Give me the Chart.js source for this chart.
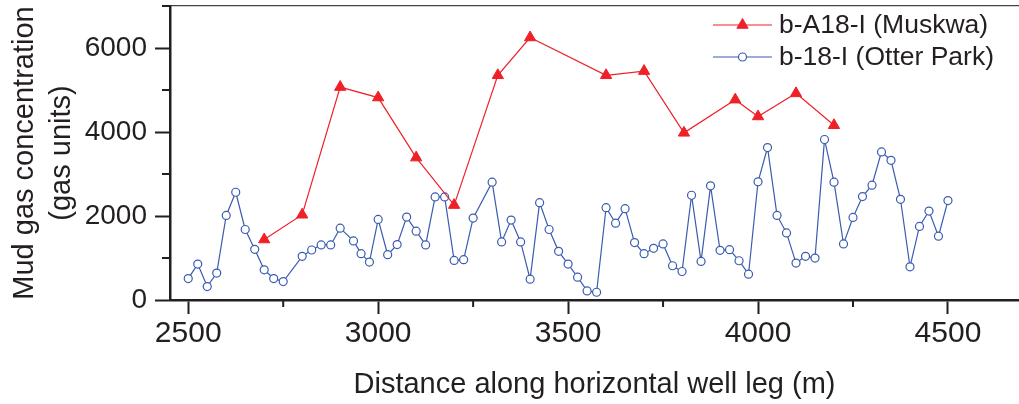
<!DOCTYPE html>
<html><head><meta charset="utf-8">
<script src="https://cdn.jsdelivr.net/npm/chart.js@4/dist/chart.umd.min.js"></script>
<style>html,body{margin:0;padding:0;background:#fff;}#wrap{width:1019px;height:404px;}</style>
</head><body><div id="wrap"><canvas id="c" width="1019" height="404"></canvas></div>
<script>
// ---- data ----
const muskwaLabel = 'b-A18-I (Muskwa)';
const muskwaX = [2700,2800,2900,3000,3100,3200,3315,3400,3600,3700,3805,3940,4000,4100,4200];
const muskwaY = [1440,2030,5070,4820,3390,2260,5350,6250,5350,5450,3980,4770,4370,4920,4160];

const otterLabel = 'b-18-I (Otter Park)';
const otterX = [2500,2525,2550,2575,2600,2625,2650,2675,2700,2725,2750,2800,2825,2850,2875,2900,2935,2955,2977,3000,3025,3050,3075,3100,3125,3150,3175,3200,3225,3250,3300,3325,3350,3375,3400,3425,3450,3475,3500,3525,3550,3575,3600,3625,3650,3675,3700,3725,3750,3775,3800,3825,3850,3875,3900,3925,3950,3975,4000,4025,4050,4075,4100,4125,4150,4175,4200,4225,4250,4275,4300,4325,4350,4375,4400,4425,4450,4475,4500];
const otterY = [510,856,319,640,2014,2566,1679,1207,719,511,439,1039,1191,1311,1311,1711,1407,1103,903,1918,1079,1319,1974,1638,1311,2454,2454,943,959,1950,2806,1383,1902,1383,496,2318,1679,1159,856,544,216,184,2198,1830,2174,1367,1103,1231,1335,815,679,2494,919,2718,1183,1199,935,615,2814,3630,2014,1598,879,1039,999,3822,2806,1335,1966,2462,2734,3525,3325,2398,791,1751,2118,1519,2367];

const xTicks = [2500,3000,3500,4000,4500];
const xMinorTicks = [2750,3250,3750,4250];
const yTicks = [0,2000,4000,6000];
const yMinorTicks = [1000,3000,5000,7000];
const xTitle = 'Distance along horizontal well leg (m)';
const yTitle = ['Mud gas concentration','(gas units)'];

// ---- styles ----
const FONT = "'Liberation Sans', Arial, Helvetica, sans-serif";
const INK = '#231f20';
const RED = '#ee2129';
const BLUE = '#3a5bb0';

const toPts = (xs, ys) => xs.map((x, i) => ({x, y: ys[i]}));
const noPad = s => { s.paddingTop = 0; s.paddingBottom = 0; s.paddingLeft = 0; s.paddingRight = 0; };

const minorTicksPlugin = {
  id: 'minorTicks',
  afterDraw(chart) {
    const {ctx, chartArea, scales} = chart;
    ctx.save(); ctx.strokeStyle = INK; ctx.lineWidth = 2; ctx.beginPath();
    xMinorTicks.forEach(v => { const px = scales.x.getPixelForValue(v); ctx.moveTo(px, chartArea.bottom); ctx.lineTo(px, chartArea.bottom + 7); });
    yMinorTicks.forEach(v => { const py = scales.y.getPixelForValue(v); ctx.moveTo(chartArea.left - 8, py); ctx.lineTo(chartArea.left, py); });
    ctx.stroke(); ctx.restore();
  }
};

const legendPlugin = {
  id: 'customLegend',
  afterDraw(chart) {
    const {ctx} = chart;
    const x0 = chart.width - 306, x1 = chart.width - 247, xt = chart.width - 240;
    const rows = [{ds: chart.data.datasets[0], y: 25}, {ds: chart.data.datasets[1], y: 57}];
    ctx.save();
    rows.forEach(r => {
      ctx.strokeStyle = r.ds.borderColor; ctx.lineWidth = r.ds.borderWidth;
      ctx.beginPath(); ctx.moveTo(x0, r.y); ctx.lineTo(x1, r.y); ctx.stroke();
      ctx.fillStyle = r.ds.pointBackgroundColor; ctx.strokeStyle = r.ds.pointBorderColor; ctx.lineWidth = r.ds.pointBorderWidth;
      Chart.helpers.drawPoint(ctx, {pointStyle: r.ds.pointStyle, radius: r.ds.pointRadius, rotation: 0, borderWidth: r.ds.pointBorderWidth}, (x0 + x1) / 2, r.y);
      ctx.fillStyle = INK; ctx.font = `26.5px ${FONT}`; ctx.textBaseline = 'middle'; ctx.textAlign = 'left';
      ctx.fillText(r.ds.label, xt, r.y + 1);
    });
    ctx.restore();
  }
};

new Chart(document.getElementById('c'), {
  type: 'line',
  data: {datasets: [
    {label: muskwaLabel, data: toPts(muskwaX, muskwaY), borderColor: RED, borderWidth: 1.2, backgroundColor: RED,
     pointStyle: 'triangle', pointRadius: 6.5, pointBackgroundColor: RED, pointBorderColor: RED, pointBorderWidth: 1, tension: 0, fill: false},
    {label: otterLabel, data: toPts(otterX, otterY), borderColor: BLUE, borderWidth: 1.2, backgroundColor: '#fff',
     pointStyle: 'circle', pointRadius: 4, pointBackgroundColor: '#fff', pointBorderColor: BLUE, pointBorderWidth: 1.2, tension: 0, fill: false}
  ]},
  options: {
    responsive: false, animation: false, devicePixelRatio: 1,
    layout: {padding: 0, autoPadding: false},
    plugins: {legend: {display: false}, tooltip: {enabled: false}},
    scales: {
      x: {type: 'linear', position: 'bottom', min: 2452, max: 4687,
        afterFit(s) { s.height = 104; noPad(s); },
        afterBuildTicks(s) { s.ticks = xTicks.map(v => ({value: v})); },
        ticks: {font: {family: FONT, size: 30}, color: INK, padding: 2, maxRotation: 0, autoSkip: false, callback: v => String(v)},
        grid: {drawOnChartArea: false, tickLength: 14, tickWidth: 2, tickColor: INK},
        border: {color: INK, width: 2.5},
        title: {display: true, text: xTitle, font: {family: FONT, size: 29}, color: INK, padding: {top: 0, bottom: 2}}},
      x2: {type: 'linear', position: 'top', min: 2452, max: 4687,
        afterFit(s) { s.height = 6; noPad(s); },
        ticks: {display: false}, grid: {display: false, drawTicks: false},
        border: {display: true, color: '#444', width: 1.2}},
      y: {type: 'linear', position: 'left', min: 0, max: 7000,
        afterFit(s) { s.width = 170; noPad(s); },
        afterBuildTicks(s) { s.ticks = yTicks.map(v => ({value: v})); },
        ticks: {font: {family: FONT, size: 28}, color: INK, padding: 8, callback: v => String(v)},
        grid: {drawOnChartArea: false, tickLength: 15, tickWidth: 2, tickColor: INK},
        border: {color: INK, width: 2.5},
        title: {display: true, text: yTitle, font: {family: FONT, size: 29, lineHeight: 1.28}, color: INK, padding: {top: 6, bottom: 0}}}
    }
  },
  plugins: [minorTicksPlugin, legendPlugin]
});
</script></body></html>
